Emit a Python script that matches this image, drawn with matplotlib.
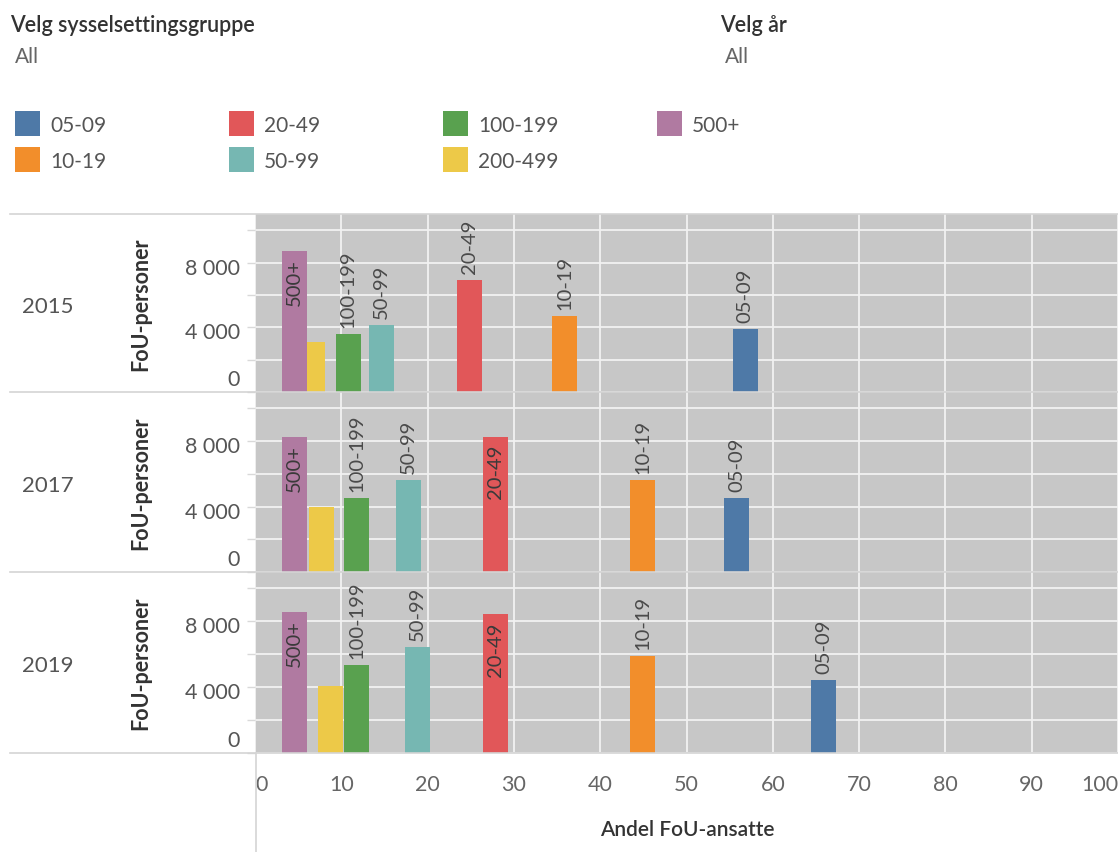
import matplotlib
matplotlib.use("Agg")
import matplotlib.pyplot as plt
from matplotlib.patches import Rectangle
from matplotlib.lines import Line2D
from matplotlib.transforms import ScaledTranslation

plt.rcParams['font.family'] = ['Lato', 'DejaVu Sans']

# ---------------- data ----------------
groups = ['05-09', '10-19', '20-49', '50-99', '100-199', '200-499', '500+']
group_colors = ['#4e79a7', '#f28e2b', '#e15759', '#76b7b2', '#59a14f', '#edc948', '#b07aa1']
legend_order = ['05-09', '10-19', '20-49', '50-99', '100-199', '200-499', '500+']

years = ['2015', '2017', '2019']
andel_2015 = [56.8, 35.9, 24.8, 14.7, 10.8, 6.7, 4.6]
personer_2015 = [3920, 4710, 6940, 4140, 3580, 3100, 8730]
andel_2017 = [55.8, 44.9, 27.9, 17.8, 11.8, 7.7, 4.6]
personer_2017 = [4500, 5610, 8250, 5610, 4500, 3960, 8250]
andel_2019 = [65.9, 44.9, 27.9, 18.8, 11.8, 8.7, 4.6]
personer_2019 = [4430, 5880, 8420, 6440, 5330, 4090, 8560]
andel = [andel_2015, andel_2017, andel_2019]
personer = [personer_2015, personer_2017, personer_2019]

x_ticks = [0, 10, 20, 30, 40, 50, 60, 70, 80, 90, 100]
y_major = [0, 4000, 8000]
y_major_labels = ['0', '4 000', '8 000']
y_minor = [2000, 6000, 10000]
hidden_labels = ['200-499']

# ---------------- layout ----------------
W, H = 1118, 853
fig = plt.figure(figsize=(W / 100, H / 100), dpi=100)

def fx(px):
    return px / W

def fy(py):
    return 1 - py / H

pane_left, pane_right = 255, 1118
rows = [(215, 393), (393, 573), (573, 754)]
pane_bg = '#c7c7c7'
label_color = '#4a4a4a'
tick_color = '#666666'

axes = []
for i, (top, bot) in enumerate(rows):
    ax = fig.add_axes([fx(pane_left), fy(bot), fx(pane_right) - fx(pane_left), (bot - top) / H])
    ax.set_facecolor(pane_bg)
    ax.set_xlim(0, 100)
    ax.set_ylim(0, 11000)
    for s in ax.spines.values():
        s.set_visible(False)
    ax.set_xticks(x_ticks)
    ax.set_yticks(y_major)
    ax.set_yticklabels(y_major_labels)
    ax.set_yticks(y_minor, minor=True)
    ax.grid(True, which='both', color='#f2f2f2', lw=1.3)
    ax.set_axisbelow(True)
    ax.tick_params(axis='y', which='both', length=6, width=1, color='#d9d9d9',
                   pad=5, labelsize=15.5, labelcolor='#555555')
    ax.tick_params(axis='x', length=0, labelbottom=(i == len(rows) - 1),
                   pad=15, labelsize=15.5, labelcolor=tick_color)
    ylabels = ax.get_yticklabels()
    ylabels[0].set_va('bottom')
    ylabels[0].set_transform(ylabels[0].get_transform() +
                             ScaledTranslation(0, 3 / 100, fig.dpi_scale_trans))
    for lab in ylabels[1:]:
        lab.set_transform(lab.get_transform() +
                          ScaledTranslation(0, -3 / 100, fig.dpi_scale_trans))

    ax.bar(andel[i], personer[i], width=2.9, color=group_colors, zorder=3)
    for g, xv, hv in zip(groups, andel[i], personer[i]):
        if g in hidden_labels:
            continue
        if hv > 7500:
            ax.annotate(g, (xv, hv), xytext=(0, -5), textcoords='offset points',
                        rotation=90, ha='center', va='top', fontsize=14.5,
                        color='#3a3a3a', zorder=4)
        else:
            ax.annotate(g, (xv, hv), xytext=(0, 5), textcoords='offset points',
                        rotation=90, ha='center', va='bottom', fontsize=14.5,
                        color=label_color, zorder=4)

    # row header texts
    fig.text(fx(22), fy((top + bot) / 2 + 3), years[i], ha='left', va='center',
             fontsize=16, color='#555555')
    fig.text(fx(141), fy((top + bot) / 2), 'FoU-personer', ha='center', va='center',
             rotation=90, fontsize=15.5, fontweight='bold', color='#333333')
    axes.append(ax)

# x tick label alignment at the ends
bottom_ax = axes[-1]
xl = bottom_ax.get_xticklabels()
xl[0].set_ha('left')
xl[-1].set_ha('right')

# separator lines
for yline in [215, 393, 573, 754]:
    fig.add_artist(Line2D([fx(10), fx(W)], [fy(yline), fy(yline)], color='#d4d4d4', lw=1.2))
fig.add_artist(Line2D([fx(256), fx(256)], [fy(754), fy(H)], color='#d4d4d4', lw=1.2))

fig.text(fx(687), fy(830), 'Andel FoU-ansatte', ha='center', va='center',
         fontsize=15, color='#333333', fontweight='semibold')

# filter headers
fig.text(fx(10), fy(26), 'Velg sysselsettingsgruppe', ha='left', va='center',
         fontsize=15.5, fontweight='semibold', color='#333333')
fig.text(fx(15), fy(57), 'All', ha='left', va='center', fontsize=15, color='#666666')
fig.text(fx(720), fy(26), 'Velg år', ha='left', va='center',
         fontsize=15.5, fontweight='semibold', color='#333333')
fig.text(fx(725), fy(57), 'All', ha='left', va='center', fontsize=15, color='#666666')

# legend
col_x = [15, 229, 443, 657]
row_y = [124.5, 160.5]
for k, g in enumerate(legend_order):
    c = k // 2
    r = k % 2
    col = group_colors[groups.index(g)]
    x0 = col_x[c]
    yc = row_y[r]
    fig.add_artist(Rectangle((fx(x0), fy(yc + 12.5)), 25 / W, 25 / H,
                             transform=fig.transFigure, facecolor=col, edgecolor='none'))
    fig.text(fx(x0 + 35), fy(yc + 2), g, ha='left', va='center', fontsize=15, color='#555555')

fig.savefig('out.png', dpi=100)
